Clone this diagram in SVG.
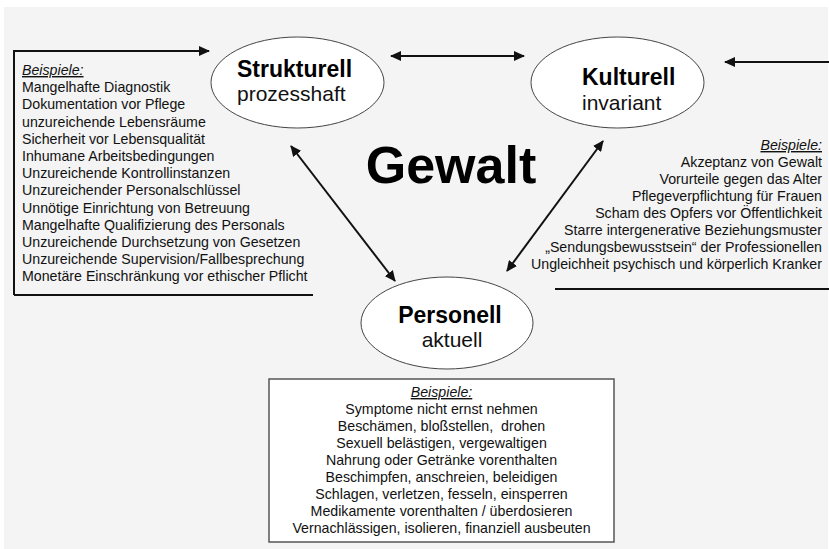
<svg xmlns="http://www.w3.org/2000/svg" width="829" height="549" viewBox="0 0 829 549">
<style>
.t{font-family:"Liberation Sans",Arial,sans-serif;font-size:14.2px;fill:#111}
.h{font-style:italic;text-decoration:underline}
.b{font-family:"Liberation Sans",Arial,sans-serif;font-weight:bold;font-size:23px;fill:#000}
.r{font-family:"Liberation Sans",Arial,sans-serif;font-size:21px;fill:#111}
.el{fill:#fff;stroke:#444;stroke-width:1}
.ln{stroke:#111;stroke-width:2;fill:none}
</style>
<defs>
<marker id="ah" markerUnits="userSpaceOnUse" markerWidth="11" markerHeight="10" refX="10" refY="5" orient="auto-start-reverse">
<path d="M0,0 L11,5 L0,10 z" fill="#111"/>
</marker>
</defs>
<rect x="0" y="0" width="829" height="549" fill="#fff"/>
<rect x="4" y="7" width="824" height="542" fill="#f4f4f4"/>
<g id="connectors">
<polyline class="ln" points="14,295 14,51 209,51" marker-end="url(#ah)"/>
<line class="ln" x1="14" y1="295" x2="313" y2="295"/>
<line class="ln" x1="829" y1="62" x2="725" y2="62" marker-end="url(#ah)"/>
<line class="ln" x1="555" y1="289" x2="829" y2="289"/>
<line class="ln" x1="391" y1="56" x2="524" y2="56" marker-start="url(#ah)" marker-end="url(#ah)"/>
<line class="ln" x1="291" y1="146" x2="395" y2="281" marker-start="url(#ah)" marker-end="url(#ah)"/>
<line class="ln" x1="603" y1="141" x2="507" y2="271" marker-start="url(#ah)" marker-end="url(#ah)"/>
</g>
<g id="strukturell">
<ellipse class="el" cx="297.5" cy="82.5" rx="86.5" ry="45.5"/>
<text class="b" x="237" y="77">Strukturell</text>
<text class="r" x="237" y="101">prozesshaft</text>
</g>
<g id="kulturell">
<ellipse class="el" cx="617.5" cy="82.5" rx="86.5" ry="45.5"/>
<text class="b" x="582" y="85">Kulturell</text>
<text class="r" x="582" y="110">invariant</text>
</g>
<g id="personell">
<ellipse class="el" cx="447" cy="323" rx="86" ry="46"/>
<text class="b" x="450" y="323" text-anchor="middle">Personell</text>
<text class="r" x="452" y="347" text-anchor="middle">aktuell</text>
</g>
<g id="gewalt">
<text x="451" y="183" text-anchor="middle" style="font-family:'Liberation Sans',Arial,sans-serif;font-weight:bold;font-size:52px;fill:#000">Gewalt</text>
</g>
<g id="beispiele-strukturell">
<text class="t h" x="22" y="75">Beispiele:</text>
<text class="t" x="22" y="92.2">Mangelhafte Diagnostik</text>
<text class="t" x="22" y="109.4">Dokumentation vor Pflege</text>
<text class="t" x="22" y="126.6">unzureichende Lebensräume</text>
<text class="t" x="22" y="143.8">Sicherheit vor Lebensqualität</text>
<text class="t" x="22" y="161">Inhumane Arbeitsbedingungen</text>
<text class="t" x="22" y="178.2">Unzureichende Kontrollinstanzen</text>
<text class="t" x="22" y="195.4">Unzureichender Personalschlüssel</text>
<text class="t" x="22" y="212.6">Unnötige Einrichtung von Betreuung</text>
<text class="t" x="22" y="229.8">Mangelhafte Qualifizierung des Personals</text>
<text class="t" x="22" y="247">Unzureichende Durchsetzung von Gesetzen</text>
<text class="t" x="22" y="264.2">Unzureichende Supervision/Fallbesprechung</text>
<text class="t" x="22" y="281.4">Monetäre Einschränkung vor ethischer Pflicht</text>
</g>
<g id="beispiele-kulturell">
<text class="t h" x="822" y="150" text-anchor="end">Beispiele:</text>
<text class="t" x="822" y="167" text-anchor="end">Akzeptanz von Gewalt</text>
<text class="t" x="822" y="184" text-anchor="end">Vorurteile gegen das Alter</text>
<text class="t" x="822" y="201" text-anchor="end">Pflegeverpflichtung für Frauen</text>
<text class="t" x="822" y="218" text-anchor="end">Scham des Opfers vor Öffentlichkeit</text>
<text class="t" x="822" y="235" text-anchor="end">Starre intergenerative Beziehungsmuster</text>
<text class="t" x="822" y="252" text-anchor="end">„Sendungsbewusstsein“ der Professionellen</text>
<text class="t" x="822" y="269" text-anchor="end">Ungleichheit psychisch und körperlich Kranker</text>
</g>
<g id="beispiele-personell">
<rect x="269" y="379" width="345" height="163" fill="#fff" stroke="#555" stroke-width="1.5"/>
<text class="t h" x="441.5" y="397" text-anchor="middle">Beispiele:</text>
<text class="t" x="441.5" y="414" text-anchor="middle">Symptome nicht ernst nehmen</text>
<text class="t" x="441.5" y="431" text-anchor="middle" xml:space="preserve">Beschämen, bloßstellen,  drohen</text>
<text class="t" x="441.5" y="448" text-anchor="middle">Sexuell belästigen, vergewaltigen</text>
<text class="t" x="441.5" y="465" text-anchor="middle">Nahrung oder Getränke vorenthalten</text>
<text class="t" x="441.5" y="482" text-anchor="middle">Beschimpfen, anschreien, beleidigen</text>
<text class="t" x="441.5" y="499" text-anchor="middle">Schlagen, verletzen, fesseln, einsperren</text>
<text class="t" x="441.5" y="516" text-anchor="middle">Medikamente vorenthalten / überdosieren</text>
<text class="t" x="441.5" y="533" text-anchor="middle">Vernachlässigen, isolieren, finanziell ausbeuten</text>
</g>
</svg>
